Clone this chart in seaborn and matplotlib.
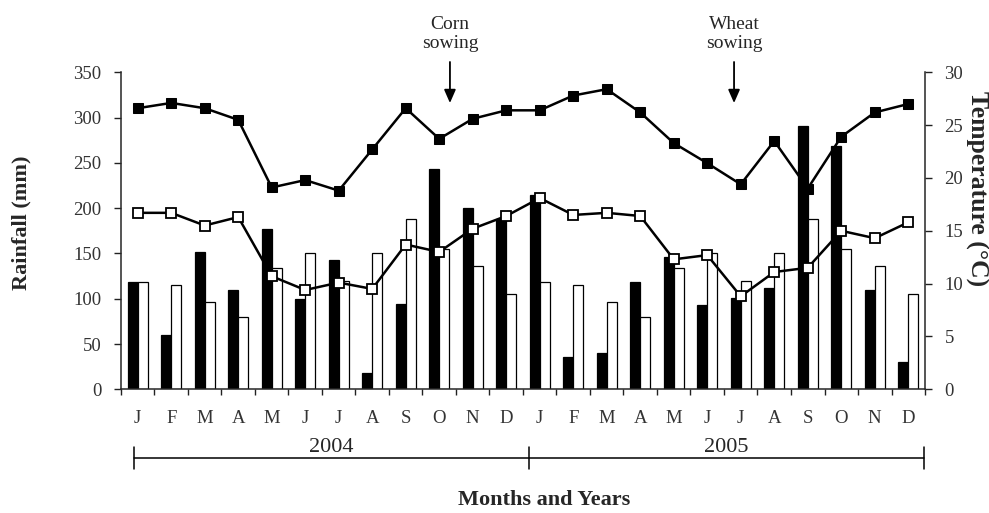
import matplotlib
matplotlib.use("Agg")
import matplotlib.pyplot as plt
import matplotlib.transforms as mtransforms
import numpy as np
import pandas as pd
import seaborn as sns

# Monthly records, Jan 2004 - Dec 2005
months = ["J", "F", "M", "A", "M", "J", "J", "A", "S", "O", "N", "D",
          "J", "F", "M", "A", "M", "J", "J", "A", "S", "O", "N", "D"]
years = ["2004", "2005"]

rainfall = [118, 60, 152, 110, 177, 100, 143, 18, 94, 243, 200, 188,
            214, 36, 40, 118, 146, 93, 101, 112, 291, 269, 110, 30]
rainfall_mean = [119, 115, 96, 80, 134, 150, 120, 150, 188, 155, 136, 105,
                 119, 115, 96, 80, 134, 150, 120, 150, 188, 155, 136, 105]
temp_max = [26.6, 27.1, 26.6, 25.5, 19.1, 19.8, 18.8, 22.7, 26.6, 23.7, 25.6, 26.4,
            26.4, 27.8, 28.4, 26.2, 23.3, 21.4, 19.4, 23.5, 19.0, 23.9, 26.2, 27.0]
temp_min = [16.7, 16.7, 15.5, 16.3, 10.7, 9.4, 10.1, 9.5, 13.7, 13.0, 15.2, 16.4,
            18.1, 16.5, 16.7, 16.4, 12.3, 12.7, 8.8, 11.1, 11.5, 15.0, 14.3, 15.8]

events = ["Corn\nsowing", "Wheat\nsowing"]
event_pos = [9.32, 17.8]

sns.set_style("ticks")
plt.rcParams["font.family"] = ["Liberation Serif", "DejaVu Serif"]
plt.rcParams["axes.linewidth"] = 1.1

n = len(months)
pos = np.arange(n)
bars = pd.DataFrame({
    "pos": np.concatenate([pos, pos]),
    "mm": rainfall + rainfall_mean,
    "series": ["Rainfall"] * n + ["Mean rainfall"] * n,
})

fig = plt.figure(figsize=(9.89, 5.13), dpi=100)
ax = fig.add_axes([0.1223, 0.2411, 0.8130, 0.6180])

sns.barplot(data=bars, x="pos", y="mm", hue="series",
            palette=["black", "white"], edgecolor="black", linewidth=0.9,
            width=0.6, errorbar=None, legend=False, ax=ax)

ax.set_xlim(-0.5, n - 0.5)
ax.set_ylim(0, 350)
ax.set_yticks(np.arange(0, 351, 50))
ax.set_xticks(pos)
ax.set_xticklabels(months)
ax.set_xticks(np.arange(-0.5, n, 1.0), minor=True)
ax.tick_params(axis="x", which="major", length=0, pad=15, labelsize=13.5,
               colors="#333333")
ax.tick_params(axis="x", which="minor", length=4, width=1.0, color="#222222")
ax.tick_params(axis="y", length=5, width=1.0, pad=9, labelsize=13.5,
               labelcolor="#333333", color="#222222")
ax.set_xlabel("")
ax.set_ylabel("")
for side in ["top", "right"]:
    ax.spines[side].set_visible(False)

ax2 = ax.twinx()
sns.lineplot(x=pos, y=temp_max, ax=ax2, color="black", linewidth=1.8,
             marker="s", markersize=7, markerfacecolor="black",
             markeredgecolor="black")
sns.lineplot(x=pos, y=temp_min, ax=ax2, color="black", linewidth=1.8,
             marker="s", markersize=6.5, markerfacecolor="white",
             markeredgecolor="black", markeredgewidth=1.3)
ax2.set_ylim(0, 30)
ax2.set_yticks(np.arange(0, 31, 5))
ax2.tick_params(axis="y", length=5, width=1.0, pad=9, labelsize=13.5,
                labelcolor="#333333", color="#222222")
ax2.set_ylabel("")
for side in ["top", "left", "bottom"]:
    ax2.spines[side].set_visible(False)
ax2.set_xlim(-0.5, n - 0.5)

# Axis titles
ax.text(-0.1235, 0.526, "Rainfall (mm)", transform=ax.transAxes, rotation=90,
        ha="center", va="center", fontsize=16, fontweight="bold")
ax.text(1.0647, 0.632, "Temperature (\u00b0C)", transform=ax.transAxes,
        rotation=-90, ha="center", va="center", fontsize=18.5,
        fontweight="bold")
fig.text(0.55, 0.026, "Months and Years", ha="center", va="center",
         fontsize=16, fontweight="bold")

# Year brackets under the month labels
blend = mtransforms.blended_transform_factory(ax.transData, ax.transAxes)
bracket_x = [-0.11, 11.68, 23.47]
line_y = -0.2177
ax.plot([bracket_x[0], bracket_x[-1]], [line_y, line_y], color="black",
        linewidth=1.1, transform=blend, clip_on=False)
for bx in bracket_x:
    ax.plot([bx, bx], [-0.181, -0.251], color="black", linewidth=1.1,
            transform=blend, clip_on=False)
for i, yr in enumerate(years):
    mid = (bracket_x[i] + bracket_x[i + 1]) / 2
    ax.text(mid, line_y + 0.004, yr, transform=blend, ha="center",
            va="bottom", fontsize=16)

# Sowing dates
for label, xe in zip(events, event_pos):
    ax.annotate("", xy=(xe, 0.903), xytext=(xe, 1.0325), xycoords=blend,
                textcoords=blend, annotation_clip=False,
                arrowprops=dict(arrowstyle="-|>,head_length=0.8,head_width=0.35",
                                color="black", linewidth=1.3,
                                shrinkA=0, shrinkB=0))
    ax.text(xe, 1.12, label, transform=blend, ha="center", va="center",
            fontsize=14, linespacing=1.15)

fig.savefig("out.png", dpi=100, facecolor="white")
